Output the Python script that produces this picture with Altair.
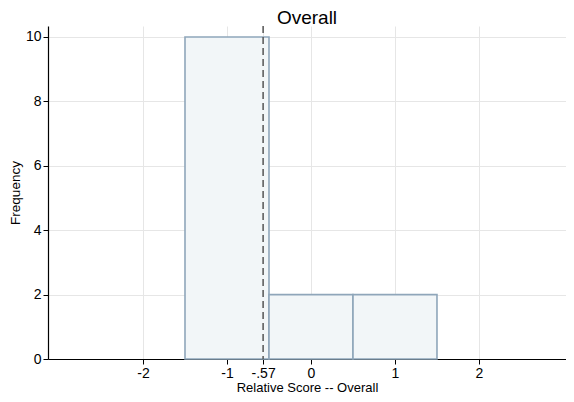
import altair as alt
import pandas as pd

bin_start = [-1.5, -0.5, 0.5]
bin_end = [-0.5, 0.5, 1.5]
counts = [10, 2, 2]
mean_value = -0.57
x_ticks = [-2, -1, -0.57, 0, 1, 2]
y_ticks = [0, 2, 4, 6, 8, 10]

bars_df = pd.DataFrame({"start": bin_start, "end": bin_end, "count": counts})
mean_df = pd.DataFrame({"mean": [mean_value]})

PLOT_W = 518
PLOT_H = 333
xscale = alt.Scale(domain=[-3.131, 3.036], nice=False, zero=False)
yscale = alt.Scale(domain=[0, 10.34], nice=False)

font = "Liberation Sans"

x_label_expr = (
    "datum.value == -0.57 ? '-.57' : "
    "(datum.value < 0 ? '-' + format(-datum.value, 'd') : format(datum.value, 'd'))"
)

bars = alt.Chart(bars_df).mark_rect(
    fill="#f2f6f8", stroke="#8fa6ba", strokeWidth=1.6
).encode(
    x=alt.X("start:Q", scale=xscale,
            axis=alt.Axis(values=x_ticks, title="Relative Score -- Overall",
                          labelExpr=x_label_expr,
                          grid=True, gridColor="#e6e6e6", domainColor="#000000",
                          tickColor="#000000", tickSize=5, labelFontSize=14,
                          labelColor="#000000", titleFontSize=13, titleFontWeight="normal",
                          titleColor="#000000", titlePadding=1, labelPadding=2,
                          labelFont=font, titleFont=font)),
    x2="end:Q",
    y=alt.Y("count:Q", scale=yscale,
            axis=alt.Axis(values=y_ticks, title="Frequency", grid=True,
                          gridColor="#e6e6e6", domainColor="#000000",
                          tickColor="#000000", tickSize=5, labelFontSize=14,
                          labelColor="#000000", titleFontSize=13.5, titleFontWeight="normal",
                          titleColor="#000000", titlePadding=3, labelPadding=2,
                          labelFont=font, titleFont=font)),
    y2=alt.datum(0),
)

rule = alt.Chart(mean_df).mark_rule(
    color="#555555", strokeDash=[7, 4], strokeWidth=1.5
).encode(
    x=alt.X("mean:Q", scale=xscale),
    y=alt.value(0),
    y2=alt.value(PLOT_H),
)

chart = alt.layer(bars, rule).properties(
    width=PLOT_W, height=PLOT_H,
    title=alt.TitleParams("Overall", fontSize=19, font=font, fontWeight="normal",
                          color="#000000", offset=-3),
    autosize=alt.AutoSizeParams(type="none"),
    padding={"left": 40, "top": 18, "right": 0, "bottom": 35},
).configure_view(stroke=None).configure_axisY(domainWidth=1.2).configure_axisX(domainWidth=1.2)

chart.save("out.html", embed_options={"renderer": "svg", "actions": False})
